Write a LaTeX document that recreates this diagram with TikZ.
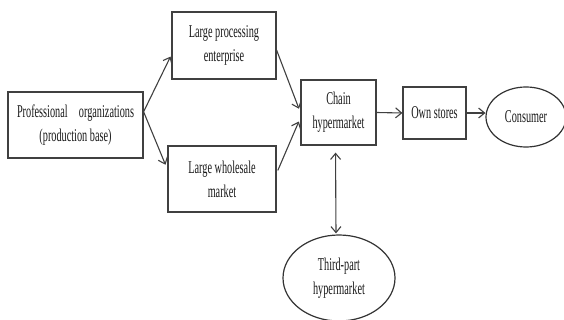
\documentclass[tikz,border=0pt]{standalone}
\usepackage{fontspec}
\setmainfont[FakeStretch=0.57]{Liberation Serif}
\usetikzlibrary{arrows.meta,shapes.geometric}
\begin{document}
\begin{tikzpicture}[x=1pt,y=-1pt,
  every node/.style={font=\fontsize{18}{24}\selectfont, text=black!90, align=center, inner sep=0pt},
  stage/.style={draw=black!75, line width=1.2pt, rectangle},
  party/.style={draw=black!80, line width=1.2pt, ellipse},
  tip/.tip={Straight Barb[length=6pt,width=10pt]},
  flow/.style={draw=black!75, line width=1.1pt, -tip},
  both/.style={draw=black!75, line width=1.1pt, tip-tip}]
\useasboundingbox (0,0) rectangle (564,320);

% supply stages
\node[stage, minimum width=135pt, minimum height=66pt] (prof) at (75.5,125)
  {\makebox[117pt]{Professional\hfill organizations}\\(production base)};
\node[stage, minimum width=104pt, minimum height=67pt] (lpe) at (224,45.5)
  {Large processing\\enterprise};
\node[stage, minimum width=108pt, minimum height=66pt] (lwm) at (222,179)
  {Large wholesale\\market};
\node[stage, minimum width=75pt, minimum height=65pt] (chain) at (338.5,112.5)
  {Chain\\hypermarket};
\node[stage, minimum width=63pt, minimum height=52pt] (own) at (434.5,113)
  {Own stores};

% end parties
\node[party, minimum width=80pt, minimum height=60pt] (cons) at (526,117)
  {Consumer};
\node[party, minimum width=112pt, minimum height=86pt] (third) at (339,278)
  {Third-part\\hypermarket};

% flows
\draw[flow, shorten >=2pt] (prof.11) -- (lpe.190);
\draw[flow, shorten >=5pt] (prof.11) -- (lwm.170);
\draw[flow, shorten >=4pt] (lpe.355) -- (chain.west);
\draw[flow, shorten <=3pt, shorten >=4pt] (lwm.6) -- (chain.188);
\draw[flow] (chain.east) -- (own.west);
\draw[flow] (own.east) -- (cons.west |- own.east);
\draw[both, shorten <=7pt, shorten >=1pt] ([xshift=-3pt]chain.south) -- ([xshift=-3pt]third.north);
\end{tikzpicture}
\end{document}
